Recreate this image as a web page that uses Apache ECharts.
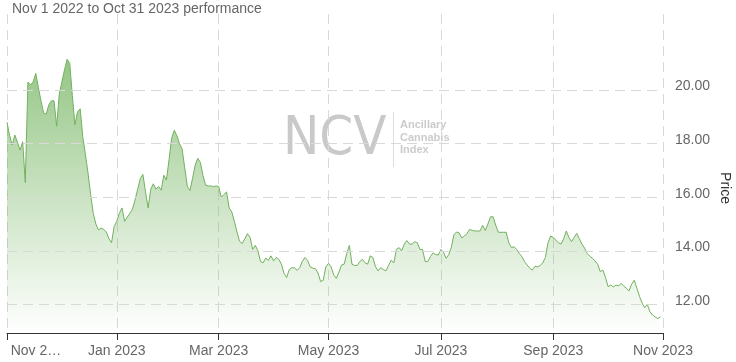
<!DOCTYPE html>
<html><head><meta charset="utf-8">
<script src="https://cdn.jsdelivr.net/npm/echarts@6/dist/echarts.min.js"></script>
<style>html,body{margin:0;padding:0;background:#fff}#c{width:736px;height:362px}</style>
</head><body><div id="c"></div>
<script>
const titleText = 'Nov 1 2022 to Oct 31 2023 performance';
const axisName = 'Price';
const startDate = '2022-11-01';
const endDate = '2023-11-01';
const holidays = ['2022-11-24','2022-12-26','2023-01-02','2023-01-16','2023-02-20','2023-04-07','2023-05-29','2023-06-19','2023-07-04','2023-09-04'];
const monthNames = ['Jan','Feb','Mar','Apr','May','Jun','Jul','Aug','Sep','Oct','Nov','Dec'];
const labelMonths = [0, 2, 4, 6, 8, 10];
const firstLabel = 'Nov 2…';
const yTicks = [12, 14, 16, 18, 20];
const yMin = 10.93, yMax = 22.84;
const prices = [
 18.8, 18.3, 17.95, 18.32, 18.05, 17.76, 18.07, 16.55, 20.3, 20.2,
 20.3, 20.62, 20.1, 19.6, 19.15, 19.1, 19.45, 19.6, 19.6, 18.65,
 19.85, 20.3, 20.75, 21.15, 21.0, 19.8, 18.7, 19.2, 19.3, 18.25,
 17.6, 16.9, 16.1, 15.4, 15.0, 14.78, 14.85, 14.8, 14.7, 14.45,
 14.3, 14.9, 15.1, 15.4, 15.6, 15.1, 15.25, 15.4, 15.55, 15.9,
 16.3, 16.7, 16.85, 16.2, 15.6, 16.3, 16.5, 16.3, 16.4, 16.26,
 16.82, 16.64, 17.4, 18.2, 18.5, 18.3, 18.0, 17.8, 17.1, 16.4,
 16.25, 16.7, 17.2, 17.45, 17.3, 16.8, 16.45, 16.42, 16.42, 16.4,
 16.42, 16.4, 16.0, 16.1, 16.2, 15.6, 15.45, 15.1, 14.7, 14.35,
 14.27, 14.45, 14.64, 14.5, 14.05, 14.2, 14.0, 13.6, 13.55, 13.73,
 13.64, 13.81, 13.62, 13.75, 13.68, 13.5, 13.15, 13.0, 13.3, 13.37,
 13.36, 13.27, 13.37, 13.6, 13.75, 13.64, 13.4, 13.35, 13.33, 13.17,
 12.85, 12.9, 13.4, 13.53, 13.4, 13.1, 12.97, 13.2, 13.47, 13.5,
 13.9, 14.2, 13.5, 13.45, 13.45, 13.6, 13.68, 13.55, 13.5, 13.81,
 13.75, 13.4, 13.25, 13.37, 13.3, 13.25, 13.45, 13.65, 13.55, 14.05,
 14.12, 14.0, 14.25, 14.38, 14.25, 14.25, 14.34, 14.3, 14.05, 14.05,
 13.6, 13.6, 13.78, 13.92, 13.86, 13.84, 14.05, 13.95, 13.72, 13.85,
 14.12, 14.6, 14.7, 14.67, 14.48, 14.55, 14.65, 14.8, 14.76, 14.74,
 14.74, 14.74, 14.95, 14.76, 15.0, 15.27, 15.27, 14.95, 14.69, 14.69,
 14.69, 14.69, 14.3, 14.12, 14.15, 14.05, 13.9, 13.78, 13.6, 13.47,
 13.35, 13.28, 13.42, 13.4, 13.45, 13.55, 13.75, 14.3, 14.55, 14.5,
 14.4, 14.3, 14.25, 14.45, 14.74, 14.5, 14.34, 14.5, 14.65, 14.45,
 14.25, 14.1, 13.9, 13.8, 13.72, 13.62, 13.5, 13.22, 13.28, 13.0,
 12.66, 12.72, 12.65, 12.72, 12.69, 12.78, 12.68, 12.6, 12.5, 12.75,
 12.9, 12.6, 12.3, 12.05, 11.87, 12.0, 11.72, 11.6, 11.53, 11.47,
 11.53
];

// trading-day categories
const dates = [];
for (let d = new Date(startDate + 'T00:00:00Z'); d <= new Date(endDate + 'T00:00:00Z'); d.setUTCDate(d.getUTCDate() + 1)) {
  const wd = d.getUTCDay();
  const s = d.toISOString().slice(0, 10);
  if (wd === 0 || wd === 6 || holidays.includes(s)) continue;
  dates.push(s);
}
const seriesData = dates.map((_, i) => (i < prices.length ? prices[i] : null));
function isMark(i) {
  if (i === 0) return true;
  if (dates[i].slice(0, 7) === dates[i - 1].slice(0, 7)) return false;
  return labelMonths.includes(+dates[i].slice(5, 7) - 1);
}

const chart = echarts.init(document.getElementById('c'), null, {renderer: 'canvas'});
const gridColor = '#d9d9d9';
const fontFam = 'Liberation Sans, Arial, sans-serif';
chart.setOption({
  animation: false,
  title: {
    text: titleText, left: 7, top: -3,
    textStyle: {fontSize: 14, fontWeight: 'normal', color: '#666', fontFamily: fontFam}
  },
  grid: {left: 7, right: 73, top: 14, bottom: 29, containLabel: false},
  xAxis: {
    type: 'category', data: dates, boundaryGap: false,
    axisLine: {lineStyle: {color: '#333', width: 1}},
    axisTick: {interval: (i) => isMark(i), length: 7, lineStyle: {color: '#333'}},
    splitLine: {show: true, interval: (i) => isMark(i), lineStyle: {color: gridColor, type: [10, 6], width: 1}},
    axisLabel: {
      interval: (i) => isMark(i), margin: 11, fontSize: 14, color: '#666', fontFamily: fontFam,
      formatter: (v, i) => {
        if (i === 0) return '{f|' + firstLabel + '}';
        return monthNames[+v.slice(5, 7) - 1] + ' ' + v.slice(0, 4);
      },
      rich: {f: {fontSize: 14, color: '#666', fontFamily: fontFam, padding: [0, 0, 0, 58]}}
    }
  },
  yAxis: {
    type: 'value', position: 'right', min: yMin, max: yMax, minInterval: 2, maxInterval: 2,
    axisLine: {show: false}, axisTick: {show: false}, splitLine: {show: false},
    axisLabel: {
      margin: 12, fontSize: 14, color: '#666', fontFamily: fontFam,
      showMinLabel: false, showMaxLabel: false,
      formatter: (v) => (yTicks.includes(v) ? '{y|' + v.toFixed(2) + '}' : ''),
      rich: {y: {fontSize: 14, color: '#666', fontFamily: fontFam, padding: [0, 0, 7, 0]}}
    }
  },
  graphic: [
    {type: 'text', x: 283, y: 140, z: 0, silent: true,
     style: {text: 'NCV', fontSize: 54, fontFamily: "'Liberation Sans Narrow', 'DejaVu Sans Condensed', Arial, sans-serif",
             fill: 'rgba(165,165,165,0.6)', textVerticalAlign: 'middle', textAlign: 'left'}},
    {type: 'line', z: 0, silent: true, shape: {x1: 393.5, y1: 112, x2: 393.5, y2: 167}, style: {stroke: '#dedede', lineWidth: 1}},
    {type: 'text', x: 400, y: 119, z: 0, silent: true,
     style: {text: 'Ancillary\nCannabis\nIndex', fontSize: 11, fontWeight: 'bold', lineHeight: 12.5,
             fontFamily: fontFam, fill: 'rgba(185,185,185,0.75)'}},
    {type: 'text', x: 725, y: 188, rotation: -Math.PI / 2, silent: true,
     style: {text: axisName, fontSize: 14, fontFamily: fontFam, fill: '#333',
             textAlign: 'center', textVerticalAlign: 'middle'}}
  ],
  series: [{
    type: 'line', data: seriesData, showSymbol: false, symbol: 'none', connectNulls: false,
    lineStyle: {color: '#72b05e', width: 1},
    areaStyle: {
      color: new echarts.graphic.LinearGradient(0, 0, 0, 1, [
        {offset: 0, color: 'rgba(104,174,82,1)'},
        {offset: 1, color: 'rgba(104,174,82,0)'}
      ])
    },
    markLine: {
      silent: true, symbol: ['none', 'none'], label: {show: false},
      lineStyle: {color: gridColor, type: [10, 6], width: 1},
      emphasis: {disabled: true},
      data: yTicks.map((v) => ({yAxis: v}))
    }
  }]
});
</script>
</body></html>
